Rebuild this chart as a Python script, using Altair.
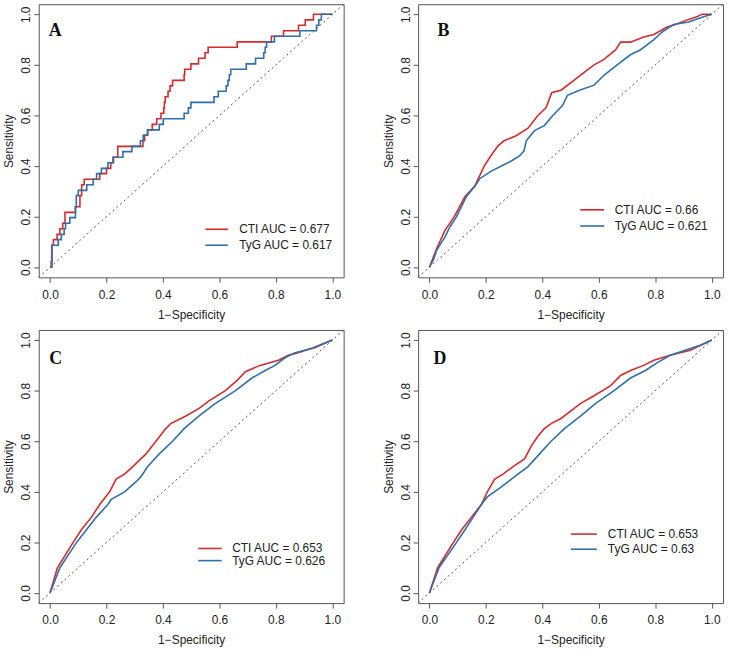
import altair as alt
import pandas as pd

# ---------------- data ----------------
panels = ["A", "B", "C", "D"]
series_names = ["CTI", "TyG"]
auc_labels = {
    "A": ["CTI AUC = 0.677", "TyG AUC = 0.617"],
    "B": ["CTI AUC = 0.66", "TyG AUC = 0.621"],
    "C": ["CTI AUC = 0.653", "TyG AUC = 0.626"],
    "D": ["CTI AUC = 0.653", "TyG AUC = 0.63"],
}

A_cti_x = [0, 0.004, 0.004, 0.006, 0.006, 0.012, 0.012, 0.025, 0.025, 0.035, 0.035, 0.045, 0.045, 0.053, 0.053,
           0.09, 0.09, 0.106, 0.106, 0.112, 0.112, 0.121, 0.121, 0.176, 0.176, 0.2, 0.2, 0.215, 0.215, 0.223,
           0.223, 0.24, 0.24, 0.329, 0.329, 0.335, 0.335, 0.346, 0.346, 0.362, 0.362, 0.378, 0.378, 0.393, 0.393,
           0.403, 0.403, 0.405, 0.405, 0.408, 0.408, 0.418, 0.418, 0.425, 0.425, 0.434, 0.434, 0.475, 0.475,
           0.477, 0.477, 0.499, 0.499, 0.526, 0.526, 0.549, 0.549, 0.56, 0.56, 0.663, 0.663, 0.784, 0.784,
           0.827, 0.827, 0.88, 0.88, 0.904, 0.904, 0.933, 0.933, 1.0]
A_cti_y = [0, 0, 0.022, 0.022, 0.087, 0.087, 0.109, 0.109, 0.13, 0.13, 0.152, 0.152, 0.174, 0.174, 0.217,
           0.217, 0.239, 0.239, 0.283, 0.283, 0.326, 0.326, 0.348, 0.348, 0.37, 0.37, 0.391, 0.391, 0.413, 0.413,
           0.435, 0.435, 0.478, 0.478, 0.5, 0.5, 0.522, 0.522, 0.543, 0.543, 0.565, 0.565, 0.587, 0.587, 0.609,
           0.609, 0.63, 0.63, 0.652, 0.652, 0.674, 0.674, 0.696, 0.696, 0.717, 0.717, 0.739, 0.739, 0.761,
           0.761, 0.783, 0.783, 0.804, 0.804, 0.826, 0.826, 0.848, 0.848, 0.87, 0.87, 0.891, 0.891, 0.913,
           0.913, 0.935, 0.935, 0.957, 0.957, 0.978, 0.978, 1.0, 1.0]
A_tyg_x = [0, 0.007, 0.007, 0.029, 0.029, 0.04, 0.04, 0.05, 0.05, 0.055, 0.055, 0.07, 0.07, 0.09, 0.09, 0.093,
           0.093, 0.1, 0.1, 0.13, 0.13, 0.153, 0.153, 0.165, 0.165, 0.182, 0.182, 0.205, 0.205, 0.225, 0.225,
           0.258, 0.258, 0.29, 0.29, 0.32, 0.32, 0.33, 0.33, 0.345, 0.345, 0.387, 0.387, 0.401, 0.401, 0.475,
           0.475, 0.49, 0.49, 0.499, 0.499, 0.581, 0.581, 0.596, 0.596, 0.624, 0.624, 0.63, 0.63, 0.635, 0.635,
           0.64, 0.64, 0.695, 0.695, 0.728, 0.728, 0.757, 0.757, 0.762, 0.762, 0.767, 0.767, 0.795, 0.795,
           0.885, 0.885, 0.944, 0.944, 0.952, 0.952, 0.961, 0.961, 1.0]
A_tyg_y = [0, 0, 0.087, 0.087, 0.109, 0.109, 0.13, 0.13, 0.152, 0.152, 0.174, 0.174, 0.196, 0.196, 0.239,
           0.239, 0.283, 0.283, 0.304, 0.304, 0.326, 0.326, 0.348, 0.348, 0.37, 0.37, 0.391, 0.391, 0.413, 0.413,
           0.435, 0.435, 0.457, 0.457, 0.478, 0.478, 0.5, 0.5, 0.522, 0.522, 0.543, 0.543, 0.565, 0.565, 0.587,
           0.587, 0.609, 0.609, 0.63, 0.63, 0.652, 0.652, 0.674, 0.674, 0.696, 0.696, 0.717, 0.717, 0.739,
           0.739, 0.761, 0.761, 0.783, 0.783, 0.804, 0.804, 0.826, 0.826, 0.848, 0.848, 0.87, 0.87, 0.891,
           0.891, 0.913, 0.913, 0.935, 0.935, 0.957, 0.957, 0.978, 0.978, 1.0, 1.0]

B_cti_x = [0, 0.026, 0.055, 0.088, 0.126, 0.16, 0.194, 0.217, 0.243, 0.264, 0.307, 0.349, 0.384, 0.413, 0.433,
           0.466, 0.513, 0.548, 0.583, 0.616, 0.66, 0.677, 0.712, 0.759, 0.795, 0.842, 0.871, 0.918, 0.947,
           0.965, 1.0]
B_cti_y = [0, 0.075, 0.146, 0.2, 0.28, 0.32, 0.4, 0.44, 0.48, 0.5, 0.52, 0.55, 0.6, 0.63, 0.69, 0.7, 0.74,
           0.77, 0.8, 0.82, 0.86, 0.89, 0.89, 0.91, 0.92, 0.95, 0.96, 0.98, 0.99, 1.0, 1.0]
B_tyg_x = [0, 0.014, 0.026, 0.055, 0.073, 0.096, 0.131, 0.161, 0.178, 0.219, 0.255, 0.29, 0.319, 0.335, 0.343,
           0.372, 0.407, 0.437, 0.472, 0.489, 0.531, 0.583, 0.619, 0.665, 0.712, 0.748, 0.795, 0.824, 0.865,
           0.918, 0.971, 1.0]
B_tyg_y = [0, 0.029, 0.068, 0.12, 0.16, 0.2, 0.28, 0.32, 0.35, 0.38, 0.4, 0.42, 0.44, 0.46, 0.5, 0.54, 0.56,
           0.6, 0.64, 0.68, 0.7, 0.72, 0.76, 0.8, 0.84, 0.86, 0.9, 0.93, 0.96, 0.97, 0.99, 1.0]

C_cti_x = [0, 0.026, 0.082, 0.111, 0.147, 0.176, 0.211, 0.234, 0.264, 0.293, 0.34, 0.375, 0.41, 0.428, 0.481,
           0.528, 0.563, 0.621, 0.662, 0.692, 0.744, 0.809, 0.844, 0.879, 0.932, 1.0]
C_cti_y = [0, 0.1, 0.2, 0.25, 0.3, 0.35, 0.4, 0.45, 0.47, 0.5, 0.55, 0.6, 0.65, 0.67, 0.7, 0.73, 0.76, 0.8,
           0.84, 0.875, 0.9, 0.92, 0.94, 0.95, 0.97, 1.0]
C_tyg_x = [0, 0.035, 0.094, 0.129, 0.164, 0.205, 0.217, 0.264, 0.305, 0.322, 0.346, 0.387, 0.434, 0.475, 0.528,
           0.586, 0.657, 0.715, 0.762, 0.797, 0.832, 0.868, 0.938, 1.0]
C_tyg_y = [0, 0.1, 0.2, 0.25, 0.3, 0.35, 0.37, 0.4, 0.44, 0.46, 0.5, 0.55, 0.6, 0.65, 0.7, 0.75, 0.8, 0.85,
           0.88, 0.9, 0.93, 0.95, 0.97, 1.0]

D_cti_x = [0, 0.029, 0.085, 0.114, 0.149, 0.184, 0.205, 0.231, 0.261, 0.296, 0.337, 0.36, 0.384, 0.407, 0.431,
           0.466, 0.501, 0.536, 0.583, 0.642, 0.677, 0.712, 0.759, 0.795, 0.853, 0.924, 1.0]
D_cti_y = [0, 0.1, 0.2, 0.25, 0.3, 0.35, 0.4, 0.45, 0.47, 0.5, 0.53, 0.58, 0.62, 0.65, 0.67, 0.69, 0.72, 0.75,
           0.78, 0.82, 0.86, 0.88, 0.9, 0.92, 0.94, 0.96, 1.0]
D_tyg_x = [0, 0.034, 0.096, 0.126, 0.155, 0.184, 0.205, 0.255, 0.302, 0.349, 0.39, 0.431, 0.478, 0.536, 0.589,
           0.654, 0.712, 0.765, 0.806, 0.853, 0.906, 0.959, 1.0]
D_tyg_y = [0, 0.1, 0.2, 0.25, 0.3, 0.35, 0.38, 0.42, 0.46, 0.5, 0.55, 0.6, 0.65, 0.7, 0.75, 0.8, 0.85, 0.88,
           0.91, 0.94, 0.96, 0.98, 1.0]

curves = {
    "A": [(A_cti_x, A_cti_y), (A_tyg_x, A_tyg_y)],
    "B": [(B_cti_x, B_cti_y), (B_tyg_x, B_tyg_y)],
    "C": [(C_cti_x, C_cti_y), (C_tyg_x, C_tyg_y)],
    "D": [(D_cti_x, D_cti_y), (D_tyg_x, D_tyg_y)],
}

# legend placement (data coordinates) per panel: line start, line end, text x, row1 y, row2 y
legend_pos = {
    "A": (0.55, 0.63, 0.67, 0.15, 0.087),
    "B": (0.534, 0.619, 0.656, 0.227, 0.163),
    "C": (0.525, 0.608, 0.645, 0.176, 0.128),
    "D": (0.501, 0.593, 0.632, 0.233, 0.173),
}
letter_pos = {"A": (0.018, 0.934), "B": (0.05, 0.934), "C": (0.02, 0.925), "D": (0.037, 0.925)}

diag = [-0.04, 1.04]
ticks = [0.0, 0.2, 0.4, 0.6, 0.8, 1.0]

RED = "#D32B2B"
BLUE = "#2F6FAA"
TXT = "#222222"
FRAME = "#555555"

W, H = 307, 275

xscale = alt.Scale(domain=diag, nice=False, zero=False)
yscale = alt.Scale(domain=diag, nice=False, zero=False)
color_scale = alt.Scale(domain=series_names, range=[RED, BLUE])


def panel(p):
    rows = []
    for name, (xs, ys) in zip(series_names, curves[p]):
        for i, (xv, yv) in enumerate(zip(xs, ys)):
            rows.append({"x": xv, "y": yv, "series": name, "i": i})
    df = pd.DataFrame(rows)

    xax = alt.Axis(values=ticks, format=".1f", title="1\u2212Specificity", grid=False, domain=False,
                   tickSize=5, tickColor=FRAME, labelPadding=7, labelFontSize=12, titleFontSize=12,
                   titleFontWeight="normal", labelColor=TXT, titleColor=TXT, titlePadding=9,
                   labelFont="Liberation Sans", titleFont="Liberation Sans")
    yax = alt.Axis(values=ticks, format=".1f", title="Sensitivity", grid=False, domain=False,
                   tickSize=5, tickColor=FRAME, labelPadding=1, labelFontSize=12, titleFontSize=12,
                   titleFontWeight="normal", labelColor=TXT, titleColor=TXT, labelAngle=270,
                   labelAlign="center", labelBaseline="bottom", titlePadding=4,
                   labelFont="Liberation Sans", titleFont="Liberation Sans")

    lines = alt.Chart(df).mark_line(strokeWidth=1.6, interpolate="linear").encode(
        x=alt.X("x:Q", scale=xscale, axis=xax),
        y=alt.Y("y:Q", scale=yscale, axis=yax),
        color=alt.Color("series:N", scale=color_scale, legend=None),
        order=alt.Order("i:Q"),
    )

    ddf = pd.DataFrame({"x": diag, "y": diag})
    dline = alt.Chart(ddf).mark_line(color=FRAME, strokeDash=[2, 3], strokeWidth=1).encode(
        x=alt.X("x:Q", scale=xscale), y=alt.Y("y:Q", scale=yscale)
    )

    lx1, lx2, tx, y1, y2 = legend_pos[p]
    ldf = pd.DataFrame({
        "x1": [lx1, lx1], "x2": [lx2, lx2], "tx": [tx, tx], "y": [y1, y2],
        "series": series_names, "label": auc_labels[p],
    })
    lrules = alt.Chart(ldf).mark_rule(strokeWidth=1.6).encode(
        x=alt.X("x1:Q", scale=xscale), x2="x2:Q", y=alt.Y("y:Q", scale=yscale),
        color=alt.Color("series:N", scale=color_scale, legend=None),
    )
    ltext = alt.Chart(ldf).mark_text(align="left", baseline="middle", fontSize=12,
                                     font="Liberation Sans", color=TXT).encode(
        x=alt.X("tx:Q", scale=xscale), y=alt.Y("y:Q", scale=yscale), text="label:N"
    )

    lp = letter_pos[p]
    tdf = pd.DataFrame({"x": [lp[0]], "y": [lp[1]], "t": [p]})
    letter = alt.Chart(tdf).mark_text(align="center", baseline="middle", fontSize=18, fontWeight="bold",
                                      font="Liberation Serif", color="#111111").encode(
        x=alt.X("x:Q", scale=xscale), y=alt.Y("y:Q", scale=yscale), text="t:N"
    )

    return alt.layer(dline, lines, lrules, ltext, letter).properties(width=W, height=H)


chart = alt.concat(
    *[panel(p) for p in panels], columns=2, spacing={"row": 53, "column": 75}, bounds="flush"
).properties(
    padding={"left": 2, "top": -1, "right": 5, "bottom": 5}, background="white"
).configure_view(stroke=FRAME, strokeWidth=1)

chart.save("out.html", embed_options={"renderer": "svg", "actions": False})
